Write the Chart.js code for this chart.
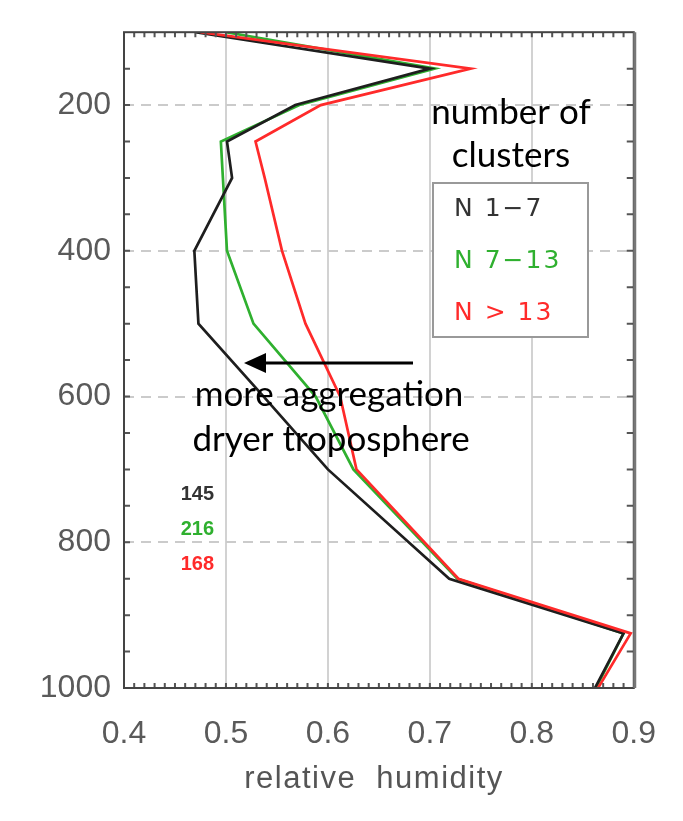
<!DOCTYPE html>
<html>
<head>
<meta charset="utf-8">
<script src="https://cdn.jsdelivr.net/npm/chart.js@4/dist/chart.umd.min.js"></script>
<style>
    body { margin: 0; background: linear-gradient(90deg, #dfe7f1 0px, #c9d7e6 40px, #c9d8e8 100%); }
    #panel { position: absolute; left: 19px; top: 6px; width: 659px; height: 815px; background: #fff; }
    #wrap { position: absolute; left: 0; top: 0; width: 683px; height: 821px; }
</style>
</head>
<body>
<div id="panel"></div>
<div id="wrap"><canvas id="chart" width="683" height="821"></canvas></div>
<script>
// pressure levels (hPa) and mean relative humidity for each cluster class
var pressure = [100, 150, 200, 250, 300, 400, 500, 600, 700, 850, 925, 1000];
var rhFew    = [0.470, 0.700, 0.568, 0.501, 0.506, 0.469, 0.473, 0.537, 0.600, 0.719, 0.890, 0.862];
var rhMid    = [0.500, 0.705, 0.572, 0.495, 0.497, 0.501, 0.527, 0.588, 0.625, 0.727, 0.890, 0.863];
var rhMany   = [0.475, 0.740, 0.593, 0.529, 0.538, 0.555, 0.578, 0.612, 0.628, 0.728, 0.897, 0.865];

var seriesNames = ["N 1\u22127", "N 7\u221213", "N > 13"];
var seriesColors = ["#1e1e1e", "#2fb02f", "#ff2a2a"];
var counts = [145, 216, 168];

var xTicks = [0.4, 0.5, 0.6, 0.7, 0.8, 0.9];
var yLabels = [200, 400, 600, 800, 1000];
var yDashed = [200, 400, 600, 800];

function toPoints(vals) {
    var pts = [];
    for (var i = 0; i < vals.length; i++) {
        pts.push({ x: vals[i], y: pressure[i] });
    }
    return pts;
}

// frame, inward minor ticks, legend box and the slide annotations
var decorations = {
    id: "decorations",
    afterDraw: function (chart) {
        var ctx = chart.ctx;
        var a = chart.chartArea;
        var xs = chart.scales.x, ys = chart.scales.y;
        ctx.save();

        // minor ticks
        ctx.strokeStyle = "#555";
        ctx.lineWidth = 2;
        ctx.beginPath();
        for (var p = 150; p < 1000; p += 50) {
            var py = ys.getPixelForValue(p);
            ctx.moveTo(a.left, py); ctx.lineTo(a.left + 6, py);
            ctx.moveTo(a.right, py); ctx.lineTo(a.right - 7, py);
        }
        for (var k = 1; k < 50; k++) {
            var px = xs.getPixelForValue(0.4 + k * 0.01);
            ctx.moveTo(px, a.top); ctx.lineTo(px, a.top + 5);
            ctx.moveTo(px, a.bottom); ctx.lineTo(px, a.bottom - 5);
        }
        ctx.stroke();

        // frame
        ctx.strokeStyle = "#444";
        ctx.lineWidth = 2;
        ctx.strokeRect(a.left, a.top, a.right - a.left, a.bottom - a.top);
        ctx.strokeStyle = "#777";
        ctx.lineWidth = 3;
        ctx.beginPath();
        ctx.moveTo(a.right + 1, a.top); ctx.lineTo(a.right + 1, a.bottom);
        ctx.stroke();

        // axis title
        ctx.fillStyle = "#555";
        ctx.font = "31px 'Liberation Sans'";
        ctx.textAlign = "center";
        ctx.textBaseline = "middle";
        ctx.letterSpacing = "1.5px";
        ctx.fillText("relative  humidity", 374, 779);

        // legend box
        ctx.fillStyle = "#fff";
        ctx.fillRect(433, 183, 155, 154);
        ctx.strokeStyle = "#999";
        ctx.lineWidth = 2;
        ctx.strokeRect(433, 183, 155, 154);
        ctx.font = "25px 'DejaVu Sans'";
        ctx.textAlign = "left";
        ctx.letterSpacing = "2px";
        for (var i = 0; i < seriesNames.length; i++) {
            ctx.fillStyle = i === 0 ? "#333" : seriesColors[i];
            ctx.fillText(seriesNames[i], 454, 209 + i * 52);
        }
        ctx.letterSpacing = "0px";

        // sample sizes
        ctx.font = "bold 20px 'Liberation Sans'";
        ctx.textAlign = "right";
        for (var j = 0; j < counts.length; j++) {
            ctx.fillStyle = j === 0 ? "#333" : seriesColors[j];
            ctx.fillText(String(counts[j]), 214, 494 + j * 35);
        }

        // annotations
        ctx.fillStyle = "#000";
        ctx.textAlign = "center";
        ctx.textBaseline = "alphabetic";
        ctx.font = "35px Lato";
        ctx.fillText("number of", 511, 124);
        ctx.fillText("clusters", 511, 167);
        ctx.fillText("more aggregation", 329, 406);
        ctx.fillText("dryer troposphere", 331, 451);

        ctx.strokeStyle = "#000";
        ctx.lineWidth = 3;
        ctx.beginPath();
        ctx.moveTo(413, 363); ctx.lineTo(262, 363);
        ctx.stroke();
        ctx.beginPath();
        ctx.moveTo(244, 363); ctx.lineTo(266, 353); ctx.lineTo(266, 373);
        ctx.closePath();
        ctx.fill();

        ctx.restore();
    }
};

var chart = new Chart(document.getElementById("chart"), {
    type: "line",
    data: {
        datasets: [
            { label: seriesNames[0], data: toPoints(rhFew), borderColor: seriesColors[0], order: 1 },
            { label: seriesNames[1], data: toPoints(rhMid), borderColor: seriesColors[1], order: 2 },
            { label: seriesNames[2], data: toPoints(rhMany), borderColor: seriesColors[2], order: 0 }
        ]
    },
    options: {
        responsive: false,
        devicePixelRatio: 1,
        animation: false,
        datasets: {
            line: { borderWidth: 2.7, pointRadius: 0, tension: 0, fill: false }
        },
        layout: { padding: { top: 29, right: 45, left: 0, bottom: 0 } },
        plugins: {
            legend: { display: false },
            tooltip: { enabled: false }
        },
        scales: {
            x: {
                type: "linear",
                min: 0.4,
                max: 0.9,
                afterFit: function (s) { s.height = 133; },
                afterBuildTicks: function (s) {
                    s.ticks = xTicks.map(function (v) { return { value: v }; });
                },
                grid: {
                    drawTicks: false,
                    lineWidth: 2,
                    color: function (c) {
                        var v = c.tick ? c.tick.value : 0;
                        return (v > 0.45 && v < 0.85) ? "#d2d2d2" : "rgba(0,0,0,0)";
                    }
                },
                border: { display: false },
                ticks: {
                    padding: 27,
                    color: "#5a5a5a",
                    font: { family: "'Liberation Sans'", size: 32 },
                    callback: function (v) { return v.toFixed(1); }
                }
            },
            y: {
                type: "linear",
                reverse: true,
                min: 100,
                max: 1000,
                afterFit: function (s) { s.width = 124; },
                afterBuildTicks: function (s) {
                    s.ticks = yLabels.map(function (v) { return { value: v }; });
                },
                grid: {
                    drawTicks: false,
                    lineWidth: 2,
                    color: function (c) {
                        var v = c.tick ? c.tick.value : 0;
                        return yDashed.indexOf(v) >= 0 ? "#cbcbcb" : "rgba(0,0,0,0)";
                    }
                },
                border: { display: false, dash: [10, 7] },
                ticks: {
                    padding: 13,
                    color: "#5a5a5a",
                    font: { family: "'Liberation Sans'", size: 32 },
                    callback: function (v) { return String(v); }
                }
            }
        }
    },
    plugins: [decorations]
});
</script>
</body>
</html>
